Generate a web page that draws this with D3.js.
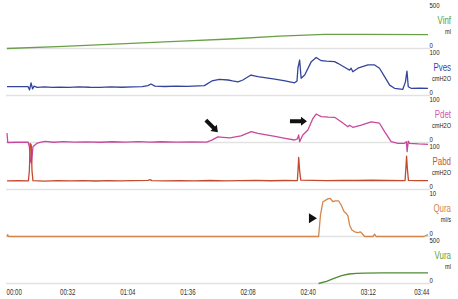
<!DOCTYPE html>
<html>
<head>
<meta charset="utf-8">
<script src="https://cdnjs.cloudflare.com/ajax/libs/d3/7.8.5/d3.min.js"></script>
<style>
  html, body { margin: 0; padding: 0; background: #fff; }
  svg { display: block; font-family: "Liberation Sans", Arial, sans-serif; }
</style>
</head>
<body>
<div id="chart"></div>
<script>
// channel setup, top to bottom
const channelNames = ['Vinf', 'Pves', 'Pdet', 'Pabd', 'Qura', 'Vura'];
const channelUnits = ['ml', 'cmH2O', 'cmH2O', 'cmH2O', 'ml/s', 'ml'];
const channelMax = [500, 100, 100, 100, 10, 500];

// time axis (seconds) and its labels
const tickSecs = [0, 32, 64, 96, 128, 160, 192, 224];
const tickLabels = ['00:00', '00:32', '01:04', '01:36', '02:08', '02:40', '03:12', '03:44'];

// traces: time (s) and value
const vinfT = [0, 30, 60, 90, 118.6, 145, 169, 190, 224];
const vinfV = [0, 23, 49, 76, 101, 131, 150, 150, 148];

const pvesT = [0, 5, 11.2, 12, 12.8, 13.6, 14.4, 16, 20, 24, 28, 33, 38, 44, 49.5, 55, 61, 67, 72, 75,
  76.6, 78.7, 84, 90, 96, 102, 105, 109, 113, 117.6, 120, 122.9, 125.5, 129.8, 133.5, 138, 142.5, 148, 153, 154.3,
  154.8, 155.7, 156.5, 158.4, 161.9, 164.5, 167.2, 170, 174.3, 176, 180.5, 182.3, 183.1, 184, 186.7, 192, 195.6, 198.2, 200.9, 203.6,
  206.2, 210.6, 212, 212.8, 213.5, 215, 220, 224];
const pvesV = [18.7, 19, 19, 12, 27, 14, 20, 17.5, 18.5, 17.5, 18, 17.2, 18.3, 17.6, 17.5, 18.4, 17.6, 18.5, 19, 21,
  24.5, 20, 19.2, 20, 19.4, 20.5, 21, 31, 34.5, 33, 31, 29, 33, 43.6, 40, 37.5, 35, 31, 27, 31,
  58.5, 75.5, 36.6, 43.6, 72, 81, 74, 73, 72, 68.5, 58, 54, 58, 50.6, 58, 65, 65, 58, 40, 22,
  15.3, 13.2, 29, 52, 18.7, 15.3, 15.8, 15.3];

const pdetT = [0, 0.4, 5, 11.2, 11.9, 12.6, 13, 13.4, 13.8, 15.8, 17.6, 20.2, 25, 30, 36, 42, 49.5, 56, 63, 70,
  76, 82, 90, 98, 106.2, 109, 112.2, 115, 118.6, 124.5, 130, 133.5, 138, 142.6, 148, 153, 154.5, 155.2, 155.7, 157.4,
  160.1, 162.8, 164.5, 167.2, 171, 174.3, 177.8, 181.4, 182.3, 184, 188.5, 193.8, 198.2, 200.9, 204.4, 208, 211.5, 212.5, 212.9, 213.5,
  214.2, 219, 224];
const pdetV = [20, 0, 0.5, 1, -9, -41, -44, -27, -9, -2, 0.4, 2.5, 0.5, 1.8, 0.8, 1.5, 0.5, 1.6, 0.7, 1.8,
  1, 1.6, 0.8, 1.5, 1, 5, 12, 11, 10, 14, 23, 19.5, 16, 12.8, 9, 5.3, 7.5, 16, 1.7, 16,
  26.6, 51.5, 60.6, 55, 54, 53.6, 44, 33.6, 36.6, 32.3, 37, 44, 41, 23, 1.7, -1.7, -1.7, 1.7, -19.6, 3,
  -1.7, -3, -3.8];

const pabdT = [0, 6, 11.4, 11.9, 12.3, 12.9, 13.3, 13.8, 20, 27, 34, 40, 47, 54, 60, 67, 75, 76.3, 77, 84,
  92, 100, 108, 116, 124, 132, 140, 148, 154.5, 154.9, 155.2, 155.7, 156.3, 163, 170, 178, 186, 194, 202, 211.8,
  212.3, 212.6, 213, 213.6, 218, 224];
const pabdV = [18.5, 18.9, 18.5, 40, 98, 95, 40, 19, 18, 18.8, 18.2, 18.7, 18.1, 18.9, 18.2, 18.8, 19.5, 21, 18.8, 18.3,
  19, 18.5, 19.1, 18.4, 18.8, 19.3, 18.6, 19.2, 19, 45, 68.5, 40, 20, 19.3, 19, 19.6, 19.1, 19.7, 19.2, 19,
  50, 71, 45, 19.5, 19, 18.7];

const quraT = [0, 0.3, 0.8, 165.8, 166.8, 168.1, 170.7, 172, 173.4, 174.6, 176.4, 177.8, 179.3, 180.5, 181.4, 182.3, 183.5, 185, 186.7, 187.9,
  188.8, 190.3, 192, 194.7, 195.6, 196.4, 221.8, 224];
const quraV = [0, 0.4, 0, 0, 4.6, 7.4, 8, 8.1, 7.4, 7.6, 7.6, 6.7, 5.3, 4.9, 4.4, 2.4, 1.4, 1, 0.8, 1,
  0.7, 0, 0, 0, 0.5, 0, 0, 0.4];

const vuraT = [165.8, 170, 174, 178, 182, 186, 190, 200, 224];
const vuraV = [0, 22, 54, 84, 101, 108, 111, 112, 112];

// annotation marks: channel index, time, value, kind
const noteChannel = [2, 2, 4];
const noteT = [112.2, 159.6, 164.9];
const noteV = [22, 45, 3.9];
const noteKind = ['diag', 'right', 'tri'];

const seriesT = [vinfT, pvesT, pdetT, pabdT, quraT, vuraT];
const seriesV = [vinfV, pvesV, pdetV, pabdV, quraV, vuraV];
const lineColors = ['#6b9f47', '#34449a', '#c8489c', '#c44a2e', '#d4864c', '#4f8c35'];
const textColors = ['#5c9e35', '#3645a6', '#d456ad', '#c65238', '#d2854c', '#5ca23b'];

const width = 458, height = 299;
const panelH = 47, firstBottom = 48.5;

const svg = d3.select('#chart').append('svg')
  .attr('width', width)
  .attr('height', height);

const x = d3.scaleLinear().domain([0, 224]).range([7, 428]);

const yScales = channelNames.map((name, i) => {
  const bottom = firstBottom + panelH * i;
  return d3.scaleLinear().domain([0, channelMax[i]]).range([bottom, bottom - panelH]);
});

// squeezed text like the original export
function label(x0, y0, txt, size, sx, color, anchor) {
  svg.append('text')
    .attr('transform', `translate(${x0},${y0}) scale(${sx},1)`)
    .attr('font-size', size)
    .attr('fill', color)
    .attr('text-anchor', anchor)
    .text(txt);
}

// separators
svg.append('g')
  .selectAll('line')
  .data(yScales)
  .join('line')
  .attr('x1', 6).attr('x2', 430)
  .attr('y1', d => d(0)).attr('y2', d => d(0))
  .attr('stroke', '#e2e2e2')
  .attr('stroke-width', 1.5);

// traces
channelNames.forEach((name, i) => {
  const pts = seriesT[i].map((t, k) => [t, seriesV[i][k]]);
  const line = d3.line()
    .x(d => x(d[0]))
    .y(d => yScales[i](d[1]));
  svg.append('path')
    .datum(pts)
    .attr('d', line)
    .attr('fill', 'none')
    .attr('stroke', lineColors[i])
    .attr('stroke-width', 1.3)
    .attr('stroke-linejoin', 'round');

  const bottom = yScales[i](0);
  label(429.5, bottom - 41, String(channelMax[i]), 8, 0.75, '#222', 'start');
  label(429.5, bottom - 0.5, '0', 8, 0.75, '#222', 'start');
  label(451, bottom - 24.5, name, 11, 0.72, textColors[i], 'end');
  label(451, bottom - 15, channelUnits[i], 8, 0.7, '#222', 'end');
});

// arrows and marker
const arrowShape = [[-17, -2], [-6, -2], [-6, -4.5], [0, 0], [-6, 4.5], [-6, 2], [-17, 2]];
noteKind.forEach((kind, k) => {
  const px = x(noteT[k]);
  const py = yScales[noteChannel[k]](noteV[k]);
  if (kind === 'tri') {
    svg.append('path')
      .attr('d', `M${px},${py}L${px - 8},${py - 5}L${px - 8},${py + 5}Z`)
      .attr('fill', '#111');
  } else {
    const angle = kind === 'diag' ? 45 : 0;
    svg.append('path')
      .attr('d', 'M' + arrowShape.join('L') + 'Z')
      .attr('transform', `translate(${px},${py}) rotate(${angle})`)
      .attr('fill', '#111');
  }
});

// time axis
const axis = d3.axisBottom(x)
  .tickValues(tickSecs)
  .tickFormat((d, i) => tickLabels[i])
  .tickSize(0);

const axisG = svg.append('g')
  .attr('transform', 'translate(0,287)')
  .call(axis);
axisG.select('.domain').remove();
axisG.selectAll('text')
  .attr('font-size', 9)
  .attr('font-family', '"Liberation Sans", Arial, sans-serif')
  .attr('fill', '#333')
  .attr('y', 7.8)
  .attr('dy', 0)
  .attr('transform', 'scale(0.68,1)')
  .attr('text-anchor', (d, i) => i === 0 ? 'start' : (i === tickSecs.length - 1 ? 'end' : 'middle'))
  .attr('x', (d, i) => i === 0 ? -1.5 : (i === tickSecs.length - 1 ? 1.5 : 0));
</script>
</body>
</html>
